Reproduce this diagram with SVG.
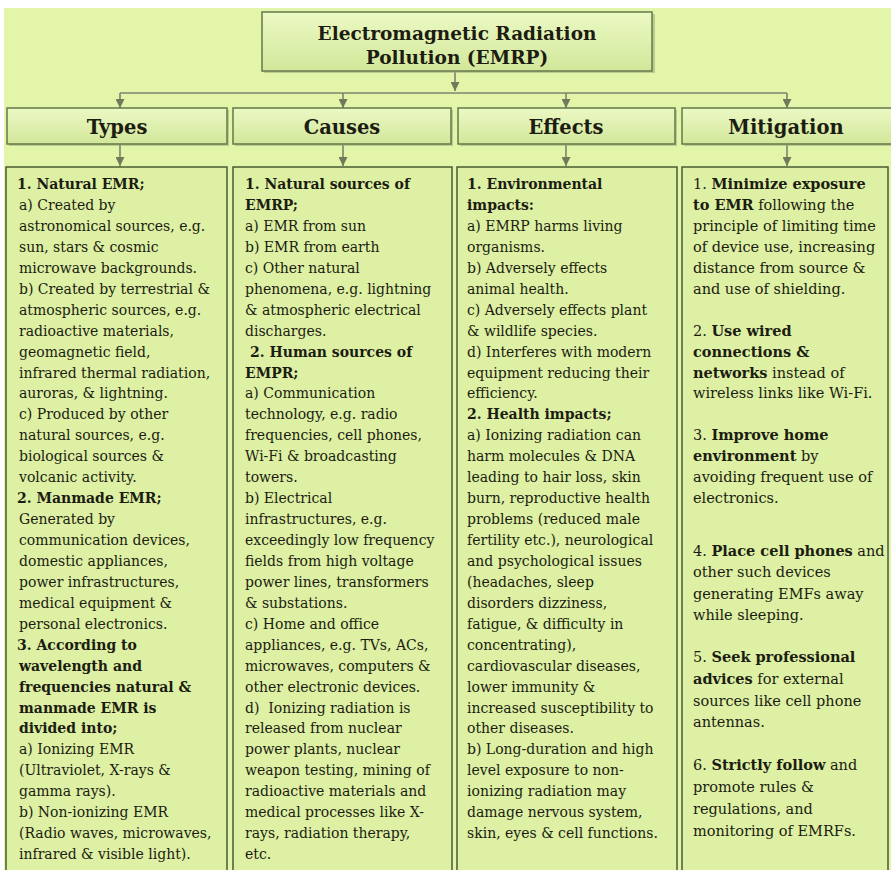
<svg xmlns="http://www.w3.org/2000/svg" width="891" height="870" viewBox="0 0 891 870">
<defs>
<linearGradient id="hg" x1="0" y1="0" x2="0" y2="1">
<stop offset="0" stop-color="#ecf9c4"/>
<stop offset="1" stop-color="#d2e79a"/>
</linearGradient>
<marker id="arr" viewBox="0 0 10 10" refX="10" refY="5" markerWidth="9" markerHeight="9" markerUnits="userSpaceOnUse" orient="auto">
<path d="M0,0 L10,5 L0,10 z" fill="#6f7a5c"/>
</marker>
</defs>
<style>
.hbox{fill:url(#hg);stroke:#66784a;stroke-width:1.5}
.shadow{fill:#9aab78;opacity:0.55}
.cbox{fill:#ddf0a3;stroke:#4b5b35;stroke-width:1.5}
.title{font-family:"DejaVu Serif",serif;font-weight:bold;font-size:18.5px;fill:#1c1c12;text-anchor:middle}
.htxt{font-family:"DejaVu Serif",serif;font-weight:bold;font-size:19.5px;fill:#1c1c12;text-anchor:middle}
.body{font-family:"DejaVu Serif",serif;font-size:14px;fill:#1c1c12}
.mit{font-family:"DejaVu Serif",serif;font-size:14.5px;fill:#1c1c12}
.b{font-weight:bold}
.conn{stroke:#7c8470;stroke-width:1.6;fill:none}
</style>
<rect x="0" y="0" width="891" height="870" fill="#ffffff"/>
<rect x="4" y="8" width="887" height="862" fill="#e2f5a8"/>

<g id="connectors">
<line class="conn" x1="455" y1="72" x2="455" y2="91" marker-end="url(#arr)"/>
<line class="conn" x1="120" y1="93" x2="787" y2="93"/>
<line class="conn" x1="120" y1="93" x2="120" y2="108" marker-end="url(#arr)"/>
<line class="conn" x1="343" y1="93" x2="343" y2="108" marker-end="url(#arr)"/>
<line class="conn" x1="566" y1="93" x2="566" y2="108" marker-end="url(#arr)"/>
<line class="conn" x1="787" y1="93" x2="787" y2="108" marker-end="url(#arr)"/>
<line class="conn" x1="120" y1="145" x2="120" y2="166" marker-end="url(#arr)"/>
<line class="conn" x1="343" y1="145" x2="343" y2="166" marker-end="url(#arr)"/>
<line class="conn" x1="566" y1="145" x2="566" y2="166" marker-end="url(#arr)"/>
<line class="conn" x1="787" y1="145" x2="787" y2="166" marker-end="url(#arr)"/>
</g>

<g id="title">
<rect class="shadow" x="264" y="14" width="391" height="59"/>
<rect class="hbox" x="262" y="12" width="390" height="59"/>
<text class="title" x="457" y="39.5">Electromagnetic Radiation</text>
<text class="title" x="457" y="64">Pollution (EMRP)</text>
</g>

<g id="hdr-types">
<rect class="shadow" x="9" y="110" width="220" height="36"/>
<rect class="hbox" x="7" y="108" width="220" height="36"/>
<text class="htxt" x="117" y="134">Types</text>
</g>
<g id="hdr-causes">
<rect class="shadow" x="235" y="110" width="218" height="36"/>
<rect class="hbox" x="233" y="108" width="218" height="36"/>
<text class="htxt" x="342" y="134">Causes</text>
</g>
<g id="hdr-effects">
<rect class="shadow" x="460" y="110" width="217" height="36"/>
<rect class="hbox" x="458" y="108" width="217" height="36"/>
<text class="htxt" x="566" y="134">Effects</text>
</g>
<g id="hdr-mitigation">
<rect class="shadow" x="684" y="110" width="215" height="36"/>
<rect class="hbox" x="682" y="108" width="215" height="36"/>
<text class="htxt" x="786" y="134">Mitigation</text>
</g>

<g id="box-types">
<rect class="cbox" x="6" y="167" width="221" height="720"/>
<text class="body">
<tspan class="b" x="17" y="189">1. Natural EMR;</tspan>
<tspan x="19" y="210">a) Created by</tspan>
<tspan x="19" y="231">astronomical sources, e.g.</tspan>
<tspan x="19" y="252">sun, stars &amp; cosmic</tspan>
<tspan x="19" y="273">microwave backgrounds.</tspan>
<tspan x="19" y="294">b) Created by terrestrial &amp;</tspan>
<tspan x="19" y="315">atmospheric sources, e.g.</tspan>
<tspan x="19" y="336">radioactive materials,</tspan>
<tspan x="19" y="357">geomagnetic field,</tspan>
<tspan x="19" y="378">infrared thermal radiation,</tspan>
<tspan x="19" y="398">auroras, &amp; lightning.</tspan>
<tspan x="19" y="419">c) Produced by other</tspan>
<tspan x="19" y="440">natural sources, e.g.</tspan>
<tspan x="19" y="461">biological sources &amp;</tspan>
<tspan x="19" y="482">volcanic activity.</tspan>
<tspan class="b" x="17" y="503">2. Manmade EMR;</tspan>
<tspan x="19" y="524">Generated by</tspan>
<tspan x="19" y="545">communication devices,</tspan>
<tspan x="19" y="566">domestic appliances,</tspan>
<tspan x="19" y="587">power infrastructures,</tspan>
<tspan x="19" y="608">medical equipment &amp;</tspan>
<tspan x="19" y="629">personal electronics.</tspan>
<tspan class="b" x="17" y="650">3. According to</tspan>
<tspan class="b" x="19" y="671">wavelength and</tspan>
<tspan class="b" x="19" y="692">frequencies natural &amp;</tspan>
<tspan class="b" x="19" y="713">manmade EMR is</tspan>
<tspan class="b" x="19" y="733">divided into;</tspan>
<tspan x="19" y="754">a) Ionizing EMR</tspan>
<tspan x="19" y="775">(Ultraviolet, X-rays &amp;</tspan>
<tspan x="19" y="796">gamma rays).</tspan>
<tspan x="19" y="817">b) Non-ionizing EMR</tspan>
<tspan x="19" y="838">(Radio waves, microwaves,</tspan>
<tspan x="19" y="859">infrared &amp; visible light).</tspan>
</text>
</g>

<g id="box-causes">
<rect class="cbox" x="233" y="167" width="219" height="720"/>
<text class="body">
<tspan class="b" x="245" y="189">1. Natural sources of</tspan>
<tspan class="b" x="245" y="210">EMRP;</tspan>
<tspan x="245" y="231">a) EMR from sun</tspan>
<tspan x="245" y="252">b) EMR from earth</tspan>
<tspan x="245" y="273">c) Other natural</tspan>
<tspan x="245" y="294">phenomena, e.g. lightning</tspan>
<tspan x="245" y="315">&amp; atmospheric electrical</tspan>
<tspan x="245" y="336">discharges.</tspan>
<tspan class="b" x="250" y="357">2. Human sources of</tspan>
<tspan class="b" x="245" y="378">EMPR;</tspan>
<tspan x="245" y="398">a) Communication</tspan>
<tspan x="245" y="419">technology, e.g. radio</tspan>
<tspan x="245" y="440">frequencies, cell phones,</tspan>
<tspan x="245" y="461">Wi-Fi &amp; broadcasting</tspan>
<tspan x="245" y="482">towers.</tspan>
<tspan x="245" y="503">b) Electrical</tspan>
<tspan x="245" y="524">infrastructures, e.g.</tspan>
<tspan x="245" y="545">exceedingly low frequency</tspan>
<tspan x="245" y="566">fields from high voltage</tspan>
<tspan x="245" y="587">power lines, transformers</tspan>
<tspan x="245" y="608">&amp; substations.</tspan>
<tspan x="245" y="629">c) Home and office</tspan>
<tspan x="245" y="650">appliances, e.g. TVs, ACs,</tspan>
<tspan x="245" y="671">microwaves, computers &amp;</tspan>
<tspan x="245" y="692">other electronic devices.</tspan>
<tspan x="245" y="713">d)&#160; Ionizing radiation is</tspan>
<tspan x="245" y="733">released from nuclear</tspan>
<tspan x="245" y="754">power plants, nuclear</tspan>
<tspan x="245" y="775">weapon testing, mining of</tspan>
<tspan x="245" y="796">radioactive materials and</tspan>
<tspan x="245" y="817">medical processes like X-</tspan>
<tspan x="245" y="838">rays, radiation therapy,</tspan>
<tspan x="245" y="859">etc.</tspan>
</text>
</g>

<g id="box-effects">
<rect class="cbox" x="457" y="167" width="220" height="720"/>
<text class="body">
<tspan class="b" x="467" y="189">1. Environmental</tspan>
<tspan class="b" x="467" y="210">impacts:</tspan>
<tspan x="467" y="231">a) EMRP harms living</tspan>
<tspan x="467" y="252">organisms.</tspan>
<tspan x="467" y="273">b) Adversely effects</tspan>
<tspan x="467" y="294">animal health.</tspan>
<tspan x="467" y="315">c) Adversely effects plant</tspan>
<tspan x="467" y="336">&amp; wildlife species.</tspan>
<tspan x="467" y="357">d) Interferes with modern</tspan>
<tspan x="467" y="378">equipment reducing their</tspan>
<tspan x="467" y="398">efficiency.</tspan>
<tspan class="b" x="467" y="419">2. Health impacts;</tspan>
<tspan x="467" y="440">a) Ionizing radiation can</tspan>
<tspan x="467" y="461">harm molecules &amp; DNA</tspan>
<tspan x="467" y="482">leading to hair loss, skin</tspan>
<tspan x="467" y="503">burn, reproductive health</tspan>
<tspan x="467" y="524">problems (reduced male</tspan>
<tspan x="467" y="545">fertility etc.), neurological</tspan>
<tspan x="467" y="566">and psychological issues</tspan>
<tspan x="467" y="587">(headaches, sleep</tspan>
<tspan x="467" y="608">disorders dizziness,</tspan>
<tspan x="467" y="629">fatigue, &amp; difficulty in</tspan>
<tspan x="467" y="650">concentrating),</tspan>
<tspan x="467" y="671">cardiovascular diseases,</tspan>
<tspan x="467" y="692">lower immunity &amp;</tspan>
<tspan x="467" y="713">increased susceptibility to</tspan>
<tspan x="467" y="733">other diseases.</tspan>
<tspan x="467" y="754">b) Long-duration and high</tspan>
<tspan x="467" y="775">level exposure to non-</tspan>
<tspan x="467" y="796">ionizing radiation may</tspan>
<tspan x="467" y="817">damage nervous system,</tspan>
<tspan x="467" y="838">skin, eyes &amp; cell functions.</tspan>
</text>
</g>

<g id="box-mitigation">
<rect class="cbox" x="682" y="167" width="206" height="720"/>
<text class="mit">
<tspan x="693" y="189">1. <tspan class="b">Minimize exposure</tspan></tspan>
<tspan x="693" y="210"><tspan class="b">to EMR</tspan> following the</tspan>
<tspan x="693" y="231">principle of limiting time</tspan>
<tspan x="693" y="252">of device use, increasing</tspan>
<tspan x="693" y="273">distance from source &amp;</tspan>
<tspan x="693" y="294">and use of shielding.</tspan>
<tspan x="693" y="336">2. <tspan class="b">Use wired</tspan></tspan>
<tspan x="693" y="357"><tspan class="b">connections &amp;</tspan></tspan>
<tspan x="693" y="378"><tspan class="b">networks</tspan> instead of</tspan>
<tspan x="693" y="398">wireless links like Wi-Fi.</tspan>
<tspan x="693" y="440">3. <tspan class="b">Improve home</tspan></tspan>
<tspan x="693" y="461"><tspan class="b">environment</tspan> by</tspan>
<tspan x="693" y="482">avoiding frequent use of</tspan>
<tspan x="693" y="503">electronics.</tspan>
<tspan x="693" y="556">4. <tspan class="b">Place cell phones</tspan> and</tspan>
<tspan x="693" y="577">other such devices</tspan>
<tspan x="693" y="599">generating EMFs away</tspan>
<tspan x="693" y="620">while sleeping.</tspan>
<tspan x="693" y="662">5. <tspan class="b">Seek professional</tspan></tspan>
<tspan x="693" y="684"><tspan class="b">advices</tspan> for external</tspan>
<tspan x="693" y="706">sources like cell phone</tspan>
<tspan x="693" y="727">antennas.</tspan>
<tspan x="693" y="770">6. <tspan class="b">Strictly follow</tspan> and</tspan>
<tspan x="693" y="792">promote rules &amp;</tspan>
<tspan x="693" y="814">regulations, and</tspan>
<tspan x="693" y="836">monitoring of EMRFs.</tspan>
</text>
</g>
</svg>
